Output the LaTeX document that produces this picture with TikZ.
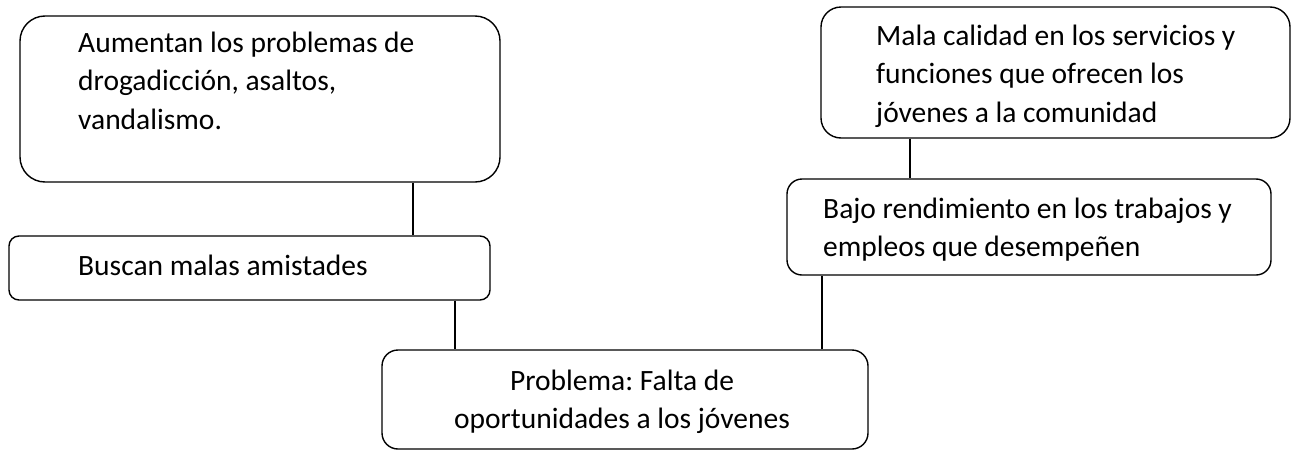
\documentclass[tikz,border=0pt]{standalone}
\usepackage{fontspec}
\setmainfont{Carlito}
\frenchspacing
\tikzset{
  box/.style={draw, line width=1.4pt, inner sep=0pt},
  txt/.style={inner sep=0pt, anchor=base west, font=\fontsize{29.5}{38.5}\selectfont},
  ctxt/.style={inner sep=0pt, anchor=base, font=\fontsize{29.5}{38.5}\selectfont},
  link/.style={line width=1.4pt}
}
\newcommand\leftlines[1]{\vtop{\baselineskip=38.7pt\halign{##\hfil\cr#1\crcr}}}
\newcommand\centerlines[1]{\vtop{\baselineskip=38.5pt\halign{\hfil##\hfil\cr#1\crcr}}}
\begin{document}
\begin{tikzpicture}[x=1pt,y=-1pt]
\useasboundingbox (0,0) rectangle (1292,450);
% boxes
\node[box, rounded corners=25pt, minimum width=480pt, minimum height=166pt] (A) at (260,99) {};
\node[box, rounded corners=10pt, minimum width=481pt, minimum height=64pt] (B) at (249.5,268) {};
\node[box, rounded corners=16pt, minimum width=486pt, minimum height=99pt] (P) at (625,399.5) {};
\node[box, rounded corners=20pt, minimum width=469pt, minimum height=131pt] (M) at (1055.5,72.5) {};
\node[box, rounded corners=15pt, minimum width=484pt, minimum height=96pt] (J) at (1029,227) {};
% texts
\node[txt] (tA) at (78,52) {\leftlines{Aumentan los problemas de\cr drogadicción, asaltos,\cr vandalismo.}};
\node[txt] (tB) at (78,275) {Buscan malas amistades};
\node[txt] (tM) at (876,45) {\leftlines{Mala calidad en los servicios y\cr funciones que ofrecen los\cr jóvenes a la comunidad}};
\node[txt] (tJ) at (823,218) {\leftlines{Bajo rendimiento en los trabajos y\cr empleos que desempeñen}};
\node[ctxt] (tP) at (622,390) {\centerlines{Problema: Falta de\cr oportunidades a los jóvenes}};
% connectors
\draw[link] (413,0 |- A.south) -- (413,0 |- B.north);
\draw[link] (455,0 |- B.south) -- (455,0 |- P.north);
\draw[link] (822,0 |- P.north) -- (822,0 |- J.south);
\draw[link] (910,0 |- M.south) -- (910,0 |- J.north);
\end{tikzpicture}
\end{document}
